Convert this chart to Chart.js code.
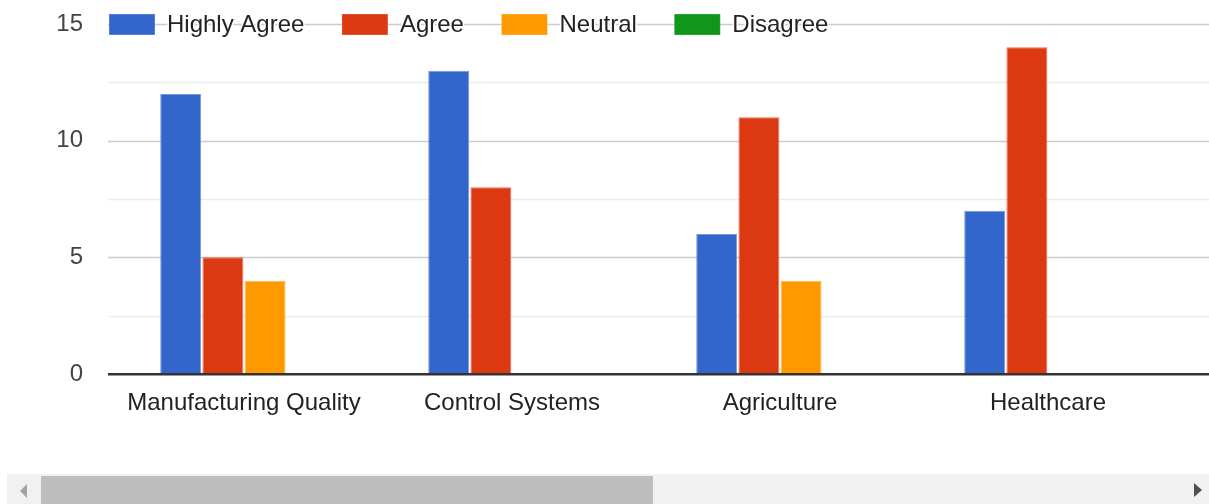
<!DOCTYPE html>
<html>
<head>
<meta charset="utf-8">
<script src="https://cdn.jsdelivr.net/npm/chart.js@4.4.1/dist/chart.umd.min.js"></script>
<style>
  html, body { margin: 0; padding: 0; background: #fff; overflow: hidden; }
  #wrap { position: absolute; left: 0; top: 0; width: 1209px; height: 420px; }
  #track { position: absolute; left: 7px; top: 474px; width: 1202px; height: 30px; background: #f1f1f1; }
  #thumb { position: absolute; left: 41px; top: 476px; width: 612px; height: 28px; background: #bebebe; }
  #arrL { position: absolute; left: 20px; top: 484px; width: 0; height: 0;
          border-top: 7px solid transparent; border-bottom: 7px solid transparent; border-right: 7px solid #a3a3a3; }
  #arrR { position: absolute; left: 1194px; top: 483px; width: 0; height: 0;
          border-top: 7px solid transparent; border-bottom: 7px solid transparent; border-left: 8px solid #505050; }
</style>
</head>
<body>
<div id="wrap"><canvas id="c"></canvas></div>
<div id="track"></div>
<div id="thumb"></div>
<div id="arrL"></div>
<div id="arrR"></div>
<script>
const categories = ['Manufacturing Quality', 'Control Systems', 'Agriculture', 'Healthcare'];
const highlyAgree = [12, 13, 6, 7];
const agree = [5, 8, 11, 14];
const neutral = [4, 0, 4, 0];
const disagree = [0, 0, 0, 0];
const seriesNames = ['Highly Agree', 'Agree', 'Neutral', 'Disagree'];
const yTicks = [0, 5, 10, 15];

const colors = ['#3366cc', '#dc3912', '#ff9900', '#109618'];
const borders = ['#7596dd', '#e6714f', '#ffb84d', '#4fb557'];
const FONT = "Arial, 'Liberation Sans', sans-serif";

const gridPlugin = {
  id: 'gridPlugin',
  beforeDatasetsDraw(chart) {
    const ctx = chart.ctx, y = chart.scales.y;
    ctx.save();
    y.ticks.forEach(t => {
      if (t.value === 0) return;
      const py = Math.round(y.getPixelForValue(t.value)) + 0.5;
      const major = t.value % 5 === 0;
      ctx.strokeStyle = major ? '#cccccc' : '#ebebeb';
      ctx.lineWidth = 1.5;
      ctx.beginPath();
      ctx.moveTo(108, py);
      ctx.lineTo(chart.width, py);
      ctx.stroke();
    });
    ctx.restore();
  },
  afterDatasetsDraw(chart) {
    const ctx = chart.ctx, y = chart.scales.y;
    const py = y.getPixelForValue(0);
    ctx.save();
    ctx.fillStyle = '#333333';
    ctx.fillRect(108, py - 1, chart.width - 108, 2.5);
    // legend drawn over the top gridline
    ctx.font = '24px ' + FONT;
    ctx.textBaseline = 'middle';
    const ly = y.getPixelForValue(15);
    let x = 109;
    seriesNames.forEach((name, i) => {
      ctx.fillStyle = borders[i];
      ctx.fillRect(x, ly - 10, 46, 21);
      ctx.fillStyle = colors[i];
      ctx.fillRect(x + 0.5, ly - 9.5, 45, 20);
      const tx = x + 58;
      ctx.lineWidth = 3;
      ctx.strokeStyle = '#ffffff';
      ctx.lineJoin = 'round';
      ctx.strokeText(name, tx, ly + 1);
      ctx.fillStyle = '#222222';
      ctx.fillText(name, tx, ly + 1);
      x = tx + ctx.measureText(name).width + 37.5;
    });
    ctx.restore();
  }
};

const makeDs = (i, data) => ({
  label: seriesNames[i],
  data: data,
  backgroundColor: colors[i],
  borderColor: borders[i],
  borderWidth: 1,
  barPercentage: 0.97,
  categoryPercentage: 0.63
});

new Chart(document.getElementById('c'), {
  type: 'bar',
  data: {
    labels: categories,
    datasets: [makeDs(0, highlyAgree), makeDs(1, agree), makeDs(2, neutral), makeDs(3, disagree)]
  },
  options: {
    responsive: true,
    maintainAspectRatio: false,
    animation: false,
    layout: { padding: { top: 24, right: 27, bottom: 0, left: 0 } },
    plugins: { legend: { display: false }, tooltip: { enabled: false } },
    scales: {
      x: {
        grid: { display: false, drawTicks: false },
        border: { display: false },
        ticks: { font: { family: FONT, size: 24 }, color: '#222222', padding: 15, maxRotation: 0, autoSkip: false },
        afterFit: s => { s.height = 46; }
      },
      y: {
        min: 0, max: 15,
        grid: { display: false, drawTicks: false },
        border: { display: false },
        afterBuildTicks: s => { s.ticks = [0, 2.5, 5, 7.5, 10, 12.5, 15].map(v => ({ value: v })); },
        ticks: {
          font: { family: FONT, size: 24 }, color: '#444444', padding: 27,
          callback: v => yTicks.includes(v) ? String(v) : ''
        },
        afterFit: s => { s.width = 110; s.paddingTop = 0; s.paddingBottom = 0; }
      }
    }
  },
  plugins: [gridPlugin]
});
</script>
</body>
</html>
